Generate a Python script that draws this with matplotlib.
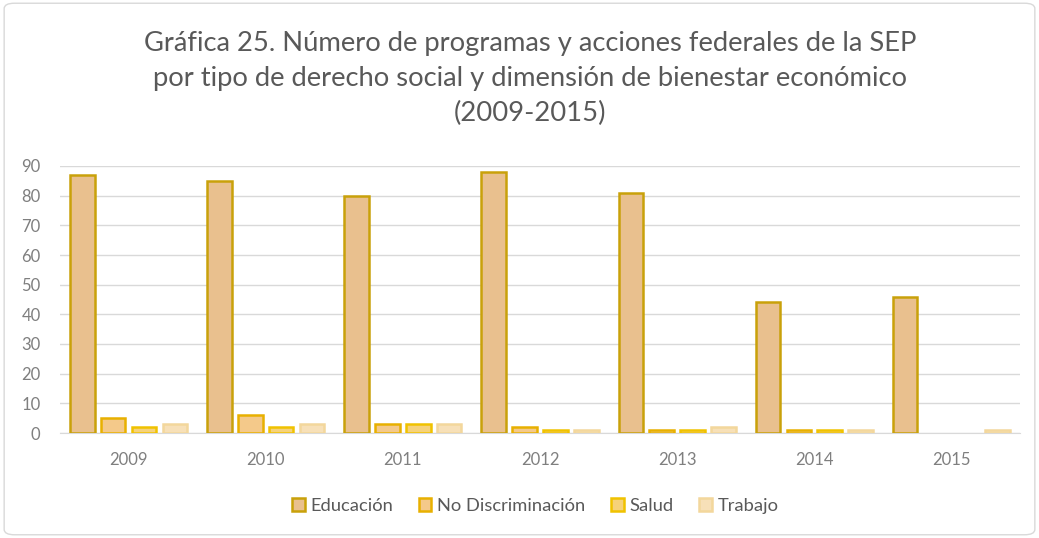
import numpy as np
import matplotlib.pyplot as plt
from matplotlib.patches import FancyBboxPatch

years = ["2009", "2010", "2011", "2012", "2013", "2014", "2015"]
educacion = [87, 85, 80, 88, 81, 44, 46]
no_discriminacion = [5, 6, 3, 2, 1, 1, 0]
salud = [2, 2, 3, 1, 1, 1, 0]
trabajo = [3, 3, 3, 1, 2, 1, 1]

series = [
    ("Educación", educacion, "#E9C08E", "#C9A10A"),
    ("No Discriminación", no_discriminacion, "#F4C98A", "#E8B000"),
    ("Salud", salud, "#F6D27A", "#F0C200"),
    ("Trabajo", trabajo, "#F7E0B8", "#F3D79C"),
]

plt.rcParams["font.family"] = ["Lato", "DejaVu Sans"]

fig = plt.figure(figsize=(10.39, 5.38), dpi=100)
ax = fig.add_axes([60 / 1039, 1 - 433 / 538, 960 / 1039, (433 - 166) / 538])

# light frame around the whole chart
fig.patches.append(FancyBboxPatch((0.004, 0.006), 0.992, 0.988,
                                  boxstyle="round,pad=0,rounding_size=0.01",
                                  transform=fig.transFigure, fill=False,
                                  edgecolor="#D9D9D9", linewidth=1))

x = np.arange(len(years))
w = 0.18
step = 0.225
for i, (name, vals, fc, ec) in enumerate(series):
    bars = ax.bar(x + (i - 1.5) * step, vals, width=w, color=fc, edgecolor=ec,
                  linewidth=1.8, label=name, zorder=3)
    for b, v in zip(bars, vals):
        if v == 0:
            b.set_visible(False)

ax.set_xlim(-0.5, len(years) - 0.5)
ax.set_ylim(0, 90)
ax.set_yticks(range(0, 91, 10))
ax.set_xticks(x)
ax.set_xticklabels(years)
ax.grid(axis="y", color="#D9D9D9", linewidth=1, zorder=0)
for s in ["top", "right", "left"]:
    ax.spines[s].set_visible(False)
ax.spines["bottom"].set_color("#D9D9D9")
ax.tick_params(axis="both", length=0, colors="#7F7F7F", labelsize=12)
ax.tick_params(axis="x", pad=14)
ax.tick_params(axis="y", pad=14)

fig.text(0.51, 0.942,
         "Gráfica 25. Número de programas y acciones federales de la SEP\n"
         "por tipo de derecho social y dimensión de bienestar económico\n"
         "(2009-2015)",
         ha="center", va="top", fontsize=19.7, color="#595959", linespacing=1.48)

ax.legend(loc="center", bbox_to_anchor=(475 / 960, -(506 - 433) / 267),
          ncol=4, frameon=False, fontsize=13.2, labelcolor="#595959",
          handlelength=0.7, handleheight=0.7, handletextpad=0.3,
          columnspacing=1.4)

fig.savefig("out.png", dpi=100)
